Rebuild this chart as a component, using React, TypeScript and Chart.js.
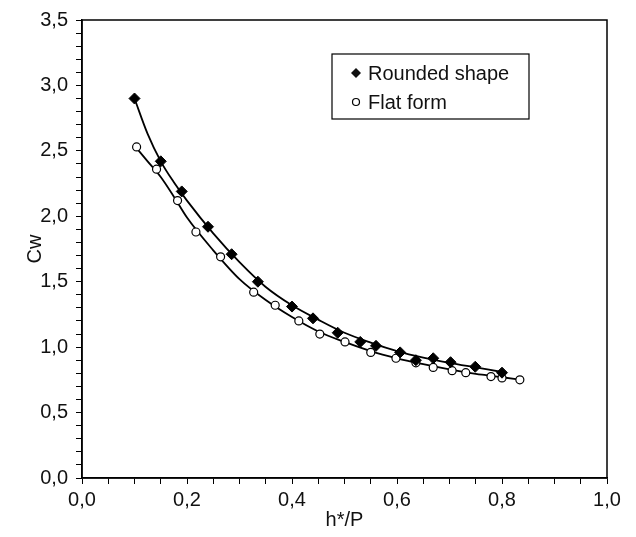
import React, { useEffect, useRef } from "react";
import { Chart, registerables } from "chart.js";

Chart.register(...registerables);

const roundedX = [0.10, 0.15, 0.19, 0.24, 0.285, 0.335, 0.40, 0.44, 0.487, 0.53, 0.56, 0.606, 0.636, 0.669, 0.702, 0.749, 0.80];
const roundedY = [2.90, 2.42, 2.19, 1.92, 1.71, 1.50, 1.31, 1.22, 1.11, 1.04, 1.01, 0.96, 0.90, 0.915, 0.885, 0.85, 0.805];

const flatX = [0.104, 0.142, 0.182, 0.217, 0.264, 0.327, 0.368, 0.413, 0.453, 0.501, 0.55, 0.598, 0.636, 0.669, 0.705, 0.731, 0.779, 0.80, 0.834];
const flatY = [2.53, 2.36, 2.12, 1.88, 1.69, 1.42, 1.32, 1.20, 1.10, 1.04, 0.96, 0.915, 0.88, 0.845, 0.82, 0.805, 0.775, 0.765, 0.75];

// Fitted curves
const roundedFitX = [0.10, 0.125, 0.15, 0.175, 0.20, 0.25, 0.30, 0.35, 0.40, 0.45, 0.50, 0.55, 0.60, 0.65, 0.70, 0.75, 0.80];
const roundedFitY = [2.90, 2.63, 2.42, 2.26, 2.12, 1.87, 1.65, 1.46, 1.32, 1.21, 1.11, 1.035, 0.97, 0.92, 0.88, 0.845, 0.81];

const flatFitX = [0.10, 0.125, 0.15, 0.175, 0.20, 0.25, 0.30, 0.35, 0.40, 0.45, 0.50, 0.55, 0.60, 0.65, 0.70, 0.75, 0.80, 0.835];
const flatFitY = [2.54, 2.42, 2.30, 2.15, 1.99, 1.74, 1.52, 1.36, 1.23, 1.12, 1.04, 0.97, 0.915, 0.87, 0.83, 0.795, 0.77, 0.75];

const seriesNames = ["Rounded shape", "Flat form"];
const xTitle = "h*/P";
const yTitle = "Cw";
const xMin = 0, xMax = 1, xStep = 0.05, xLabelEvery = 0.2;
const yMin = 0, yMax = 3.5, yStep = 0.1, yLabelEvery = 0.5;

const FONT = "'Liberation Sans', Arial, Helvetica, sans-serif";

const zip = (xs: number[], ys: number[]) => xs.map((x, i) => ({ x, y: ys[i] }));
const fmt = (v: number) => v.toFixed(1).replace(".", ",");
const isMult = (v: number, m: number) => Math.abs(v / m - Math.round(v / m)) < 1e-6;

const framePlugin = {
  id: "frame",
  afterDraw(chart: any) {
    const { ctx, chartArea: a } = chart;
    ctx.save();
    ctx.strokeStyle = "#000";
    ctx.lineWidth = 1.5;
    ctx.strokeRect(a.left, a.top, a.right - a.left, a.bottom - a.top);
    ctx.restore();
  },
};

const legendPlugin = {
  id: "boxLegend",
  afterDraw(chart: any) {
    const { ctx, chartArea: a } = chart;
    const bx = a.left + 250, by = a.top + 34, bw = 197, bh = 65;
    ctx.save();
    ctx.fillStyle = "#fff";
    ctx.fillRect(bx, by, bw, bh);
    ctx.strokeStyle = "#000";
    ctx.lineWidth = 1.2;
    ctx.strokeRect(bx, by, bw, bh);
    ctx.font = `20px ${FONT}`;
    ctx.textBaseline = "middle";
    ctx.fillStyle = "#111";
    // diamond
    const mx = bx + 24;
    const y1 = by + 19, y2 = by + 48;
    ctx.beginPath();
    ctx.moveTo(mx, y1 - 5);
    ctx.lineTo(mx + 5, y1);
    ctx.lineTo(mx, y1 + 5);
    ctx.lineTo(mx - 5, y1);
    ctx.closePath();
    ctx.fill();
    ctx.fillText(seriesNames[0], bx + 36, y1 + 1);
    // circle
    ctx.beginPath();
    ctx.arc(mx, y2, 3.5, 0, Math.PI * 2);
    ctx.lineWidth = 1.2;
    ctx.stroke();
    ctx.fillText(seriesNames[1], bx + 36, y2 + 1);
    ctx.restore();
  },
};

export default function App() {
  const ref = useRef<HTMLCanvasElement | null>(null);
  useEffect(() => {
    document.body.style.margin = "0";
    const canvas = ref.current;
    if (!canvas) return;
    const chart = new Chart(canvas, {
      type: "scatter",
      data: {
        datasets: [
          {
            label: seriesNames[0],
            data: zip(roundedX, roundedY),
            pointStyle: "rectRot",
            pointRadius: 5.5,
            backgroundColor: "#000",
            borderColor: "#000",
            borderWidth: 1,
            showLine: false,
          },
          {
            label: seriesNames[1],
            data: zip(flatX, flatY),
            pointStyle: "circle",
            pointRadius: 4,
            backgroundColor: "#fff",
            borderColor: "#000",
            borderWidth: 1.2,
            showLine: false,
          },
          {
            label: "fit1",
            data: zip(roundedFitX, roundedFitY),
            showLine: true,
            pointRadius: 0,
            borderColor: "#000",
            borderWidth: 1.8,
            cubicInterpolationMode: "monotone",
          },
          {
            label: "fit2",
            data: zip(flatFitX, flatFitY),
            showLine: true,
            pointRadius: 0,
            borderColor: "#000",
            borderWidth: 1.8,
            cubicInterpolationMode: "monotone",
          },
        ],
      },
      options: {
        animation: false,
        responsive: false,
        maintainAspectRatio: false,
        layout: { padding: { top: 19, right: 29, left: 0, bottom: 0 } },
        plugins: { legend: { display: false }, tooltip: { enabled: false } },
        scales: {
          x: {
            type: "linear",
            min: xMin,
            max: xMax,
            afterFit: (s: any) => { s.height = 59; },
            ticks: {
              stepSize: xStep,
              autoSkip: false,
              maxRotation: 0,
              padding: 4,
              color: "#111",
              font: { family: FONT, size: 20 },
              callback: (v: any) => (isMult(Number(v), xLabelEvery) ? fmt(Number(v)) : ""),
            },
            grid: { drawOnChartArea: false, drawTicks: true, tickLength: 6, color: "#000", lineWidth: 1 },
            border: { display: true, color: "#000", width: 1.5 },
            title: { display: true, text: xTitle, color: "#111", font: { family: FONT, size: 20 }, padding: { top: 0, bottom: 5 } },
          },
          y: {
            type: "linear",
            min: yMin,
            max: yMax,
            afterFit: (s: any) => { s.width = 82; },
            ticks: {
              stepSize: yStep,
              autoSkip: false,
              padding: 8,
              color: "#111",
              font: { family: FONT, size: 20 },
              callback: (v: any) => (isMult(Number(v), yLabelEvery) ? fmt(Number(v)) : ""),
            },
            grid: { drawOnChartArea: false, drawTicks: true, tickLength: 6, color: "#000", lineWidth: 1 },
            border: { display: true, color: "#000", width: 1.5 },
            title: { display: true, text: yTitle, color: "#111", font: { family: FONT, size: 20 }, padding: { top: 23, bottom: 0 } },
          },
        },
      },
      plugins: [framePlugin, legendPlugin],
    } as any);
    return () => chart.destroy();
  }, []);
  return (
    <div style={{ width: 636, height: 537, background: "#fff" }}>
      <canvas ref={ref} width={636} height={537} style={{ display: "block" }} />
    </div>
  );
}
